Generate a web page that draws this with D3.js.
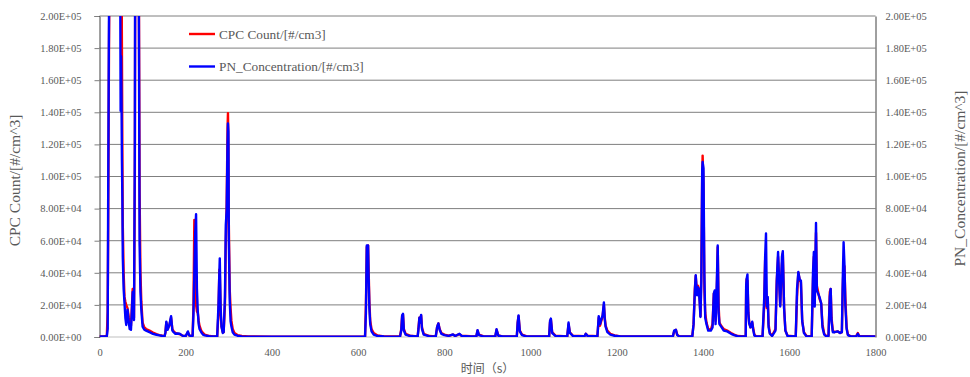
<!DOCTYPE html>
<html>
<head>
<meta charset="utf-8">
<script src="https://cdn.jsdelivr.net/npm/d3@7"></script>
<style>
  html, body { margin: 0; padding: 0; background: #fff; }
  svg { display: block; }
</style>
</head>
<body>
<svg id="chart" width="970" height="377"></svg>
<script>
// Elapsed time of each sample, seconds
const timeSec = [
  0, 10, 17, 19, 20, 22, 24, 30, 40, 47, 48, 49, 50, 51, 52, 53, 54, 56, 58, 60,
  62, 65, 68, 70, 73, 75, 77, 80, 82, 83, 90, 91, 93, 95, 97, 100, 104, 108, 116, 124,
  132, 139, 146, 151, 153, 155, 158, 162, 166, 169, 172, 176, 181, 186, 193, 200, 205, 208, 213, 216,
  218, 220, 222, 224, 226, 228, 230, 232, 236, 240, 244, 255, 265, 273, 276, 278, 279, 281, 283, 286,
  288, 291, 293, 295, 297, 298, 299, 300, 302, 304, 306, 309, 313, 320, 330, 345, 400, 500, 610, 616,
  618, 620, 623, 624, 626, 628, 631, 636, 645, 660, 697, 700, 702, 704, 706, 710, 720, 738, 740, 742,
  744, 746, 748, 752, 765, 780, 783, 786, 789, 793, 800, 810, 820, 825, 835, 840, 860, 874, 877, 880,
  890, 918, 921, 925, 935, 968, 970, 972, 975, 980, 990, 1043, 1045, 1047, 1050, 1058, 1085, 1088, 1091, 1098,
  1125, 1128, 1132, 1155, 1158, 1161, 1164, 1167, 1170, 1172, 1174, 1178, 1185, 1195, 1209, 1330, 1333, 1337, 1340, 1345,
  1375, 1378, 1381, 1383, 1386, 1388, 1390, 1392, 1394, 1396, 1398, 1399, 1401, 1403, 1405, 1408, 1412, 1418, 1422, 1425,
  1427, 1429, 1432, 1434, 1436, 1438, 1442, 1448, 1456, 1465, 1472, 1480, 1499, 1500, 1501, 1503, 1505, 1507, 1510, 1514,
  1516, 1519, 1523, 1538, 1542, 1544, 1546, 1548, 1550, 1552, 1555, 1560, 1568, 1571, 1574, 1576, 1579, 1583, 1585, 1588,
  1591, 1596, 1615, 1618, 1621, 1624, 1627, 1630, 1634, 1640, 1652, 1655, 1657, 1659, 1662, 1664, 1667, 1670, 1674, 1677,
  1681, 1686, 1691, 1694, 1696, 1698, 1701, 1705, 1712, 1718, 1722, 1724, 1726, 1728, 1730, 1733, 1736, 1742, 1755, 1759,
  1762, 1800
];

// CPC Count, #/cm3
const cpcCount = [
  300, 300, 600, 16000, 60000, 180000, 260000, 340000, 350000, 330000, 330000, 310000, 290000, 240000, 180000, 120000, 70000, 40000, 25000, 22000,
  20000, 18000, 12000, 9000, 7000, 18000, 30000, 12000, 100000, 250000, 300000, 250000, 90000, 40000, 22000, 9000, 6000, 5000, 4000, 2800,
  1800, 1200, 800, 600, 3000, 9000, 5000, 7000, 12000, 5000, 3500, 2500, 2000, 1800, 800, 600, 3000, 1000, 600, 800,
  20000, 73000, 45000, 20000, 16000, 15000, 10000, 7000, 4000, 2500, 1500, 600, 400, 400, 15000, 42000, 40000, 15000, 6500, 3000,
  3000, 20000, 60000, 83000, 130000, 139500, 120000, 70000, 30000, 18000, 10000, 5000, 2500, 1200, 600, 300, 200, 200, 200, 400,
  20000, 56000, 57000, 45000, 22000, 10000, 5000, 2500, 1000, 400, 300, 5000, 13000, 14000, 5000, 2000, 800, 400, 6000, 12000,
  9000, 13500, 6000, 2000, 600, 400, 6000, 8500, 5000, 2500, 1500, 800, 1500, 700, 1800, 800, 500, 400, 4000, 1500,
  500, 400, 4500, 1000, 400, 300, 9000, 13000, 4000, 1500, 500, 300, 9000, 11000, 3000, 800, 400, 8000, 3000, 800,
  500, 2000, 800, 500, 12000, 7000, 10000, 13000, 20000, 12000, 7000, 4000, 2000, 1000, 400, 300, 3500, 4500, 1500, 400,
  400, 8000, 30000, 38000, 27000, 32000, 30000, 25000, 13000, 40000, 100000, 113000, 95000, 30000, 15000, 9000, 5000, 4500, 8000, 27000,
  28000, 10000, 30000, 56000, 20000, 9000, 7000, 5000, 4000, 2500, 1500, 600, 400, 30000, 36000, 35000, 16000, 9000, 6000, 9000,
  6000, 1500, 400, 400, 20000, 48000, 30000, 18000, 24000, 8000, 2500, 800, 5000, 35000, 50000, 40000, 20000, 45000, 52000, 18000,
  4000, 800, 400, 25000, 40000, 36000, 34000, 10000, 3000, 600, 400, 35000, 50000, 20000, 65000, 32000, 28000, 24000, 21000, 8000,
  2000, 500, 800, 28000, 30000, 12000, 4000, 3000, 3500, 2500, 3000, 30000, 45000, 44000, 25000, 6000, 1500, 500, 400, 2500,
  600, 300
];

// PN concentration, #/cm3
const pnConcentration = [
  300, 300, 500, 5000, 80000, 200000, 280000, 360000, 360000, 300000, 230000, 141000, 175000, 150000, 110000, 87000, 50000, 30000, 21000, 12000,
  7500, 17000, 9000, 5000, 4500, 16000, 28000, 10500, 120000, 280000, 300000, 230000, 58000, 28000, 17000, 6500, 4500, 4000, 3000, 2000,
  1400, 1000, 600, 500, 3000, 9500, 4500, 7500, 13000, 4000, 3000, 2000, 2200, 2000, 700, 600, 3500, 1000, 600, 700,
  15000, 40000, 65000, 76500, 30000, 16000, 8000, 5000, 3000, 1500, 1000, 500, 300, 400, 20000, 40000, 49000, 18000, 6500, 2500,
  3000, 25000, 70000, 79000, 120000, 133000, 128000, 60000, 23000, 10000, 6500, 3000, 1500, 800, 400, 200, 150, 150, 150, 300,
  15000, 57000, 57000, 40000, 18000, 8000, 3500, 1500, 600, 300, 200, 4000, 13500, 14500, 4000, 1500, 600, 300, 5000, 12000,
  9000, 13800, 5000, 1500, 500, 300, 6000, 8500, 4500, 2000, 1200, 700, 1600, 600, 2000, 700, 400, 300, 4300, 1200,
  400, 300, 4800, 800, 300, 300, 9000, 13500, 3500, 1200, 400, 300, 10000, 11500, 2500, 600, 400, 9000, 2500, 700,
  500, 2000, 700, 500, 13000, 8000, 11000, 13500, 21500, 11000, 6500, 3000, 1500, 800, 300, 300, 4000, 4500, 1200, 300,
  300, 8000, 29000, 38500, 26000, 31000, 30000, 22000, 12500, 35000, 104000, 109000, 105000, 40000, 12000, 8000, 4000, 4000, 6000, 27000,
  29000, 8000, 35000, 57000, 15000, 8000, 6500, 4000, 3500, 2000, 1200, 500, 300, 32000, 36000, 39000, 15000, 8500, 6000, 9500,
  5000, 1000, 300, 300, 25000, 50000, 64500, 19000, 25000, 6000, 2000, 600, 4000, 35000, 53000, 37500, 19000, 50000, 53500, 18000,
  4000, 600, 300, 30000, 40500, 36000, 35000, 10000, 2500, 400, 300, 40000, 53000, 19000, 71000, 29000, 27000, 25000, 21000, 6000,
  1500, 400, 600, 25000, 30000, 10000, 3000, 3000, 3500, 2500, 3000, 35000, 59000, 45000, 20000, 5000, 1200, 400, 300, 2000,
  500, 300
];

// Axis ticks
const xTicks = [0, 200, 400, 600, 800, 1000, 1200, 1400, 1600, 1800];
const yTicks = [0, 20000, 40000, 60000, 80000, 100000, 120000, 140000, 160000, 180000, 200000];

const seriesNames = ["CPC Count/[#/cm3]", "PN_Concentration/[#/cm3]"];
const seriesColors = ["#ff0000", "#0000ff"];

const svg = d3.select("#chart");
const plot = { left: 99.5, right: 875.5, top: 16, bottom: 337 };

const x = d3.scaleLinear().domain([0, 1800]).range([plot.left, plot.right]);
const yL = d3.scaleLinear().domain([0, 200000]).range([plot.bottom, plot.top]);
const yR = d3.scaleLinear().domain([0, 200000]).range([plot.bottom, plot.top]);

const fmtE = v => {
  const s = v.toExponential(2).toUpperCase(); // e.g. 2.00E+5
  return s.replace(/E([+-])(\d)$/, "E$10$2");
};

const textColor = "#595959";
const serif = "'Liberation Serif', 'Times New Roman', serif";

// Horizontal gridlines
svg.append("g")
  .selectAll("line")
  .data(yTicks)
  .join("line")
  .attr("x1", plot.left)
  .attr("x2", plot.right)
  .attr("y1", d => yL(d))
  .attr("y2", d => yL(d))
  .attr("stroke", d => d === 0 ? "#bfbfbf" : "#7f7f7f")
  .attr("stroke-width", 1);

// Left axis with outward ticks
const leftAxis = svg.append("g")
  .attr("transform", `translate(${plot.left},0)`)
  .call(d3.axisLeft(yL).tickValues(yTicks).tickFormat(fmtE).tickSize(5).tickPadding(13));
leftAxis.attr("font-family", null);
leftAxis.select(".domain").attr("stroke", "#404040");
leftAxis.selectAll(".tick line").attr("stroke", "#7f7f7f");
leftAxis.selectAll("text")
  .style("font-family", serif).style("font-size", "10.5px").attr("fill", textColor);

// Right axis
const rightAxis = svg.append("g")
  .attr("transform", `translate(${plot.right},0)`)
  .call(d3.axisRight(yR).tickValues(yTicks).tickFormat(fmtE).tickSize(0).tickPadding(10));
rightAxis.attr("font-family", null);
rightAxis.select(".domain").attr("stroke", "#404040");
rightAxis.selectAll("text")
  .style("font-family", serif).style("font-size", "10.5px").attr("fill", textColor);

// Bottom axis labels
const bottomAxis = svg.append("g")
  .attr("transform", `translate(0,${plot.bottom})`)
  .call(d3.axisBottom(x).tickValues(xTicks).tickFormat(d3.format("d")).tickSize(0).tickPadding(12));
bottomAxis.attr("font-family", null);
bottomAxis.select(".domain").remove();
bottomAxis.selectAll("text")
  .style("font-family", serif).style("font-size", "10.5px").attr("fill", textColor);

// Axis titles
svg.append("text")
  .attr("transform", `translate(20,${(plot.top + plot.bottom) / 2 + 4}) rotate(-90)`)
  .attr("text-anchor", "middle")
  .style("font-family", serif).style("font-size", "15.5px").attr("fill", textColor)
  .text("CPC Count/[#/cm^3]");

svg.append("text")
  .attr("transform", `translate(965,${(plot.top + plot.bottom) / 2 + 2}) rotate(-90)`)
  .attr("text-anchor", "middle")
  .style("font-family", serif).style("font-size", "15.5px").attr("fill", textColor)
  .text("PN_Concentration/[#/cm^3]");

svg.append("text")
  .attr("x", (plot.left + plot.right) / 2)
  .attr("y", 373)
  .attr("text-anchor", "middle")
  .style("font-family", "'Noto Sans CJK SC', sans-serif").style("font-size", "12px").attr("fill", textColor)
  .text("时间（s）");

// Data lines, clipped to the plot area
svg.append("defs").append("clipPath").attr("id", "plotClip")
  .append("rect")
  .attr("x", plot.left).attr("y", plot.top)
  .attr("width", plot.right - plot.left).attr("height", plot.bottom - plot.top);

const series = [cpcCount, pnConcentration];
const lineGen = (scale) => d3.line()
  .x((d, i) => x(timeSec[i]))
  .y(d => scale(d));

const linesG = svg.append("g").attr("clip-path", "url(#plotClip)");
series.forEach((vals, k) => {
  linesG.append("path")
    .datum(vals)
    .attr("fill", "none")
    .attr("stroke", seriesColors[k])
    .attr("stroke-width", 2.4)
    .attr("stroke-linejoin", "round")
    .attr("d", lineGen(k === 0 ? yL : yR));
});

// Legend
const legend = svg.append("g");
seriesNames.forEach((name, k) => {
  const ly = 34 + k * 32.5;
  legend.append("line")
    .attr("x1", 189).attr("x2", 215)
    .attr("y1", ly).attr("y2", ly)
    .attr("stroke", seriesColors[k]).attr("stroke-width", 2.4);
  legend.append("text")
    .attr("x", 219).attr("y", ly + 4.5)
    .style("font-family", serif).style("font-size", "13.3px").attr("fill", textColor)
    .text(name);
});
</script>
</body>
</html>
